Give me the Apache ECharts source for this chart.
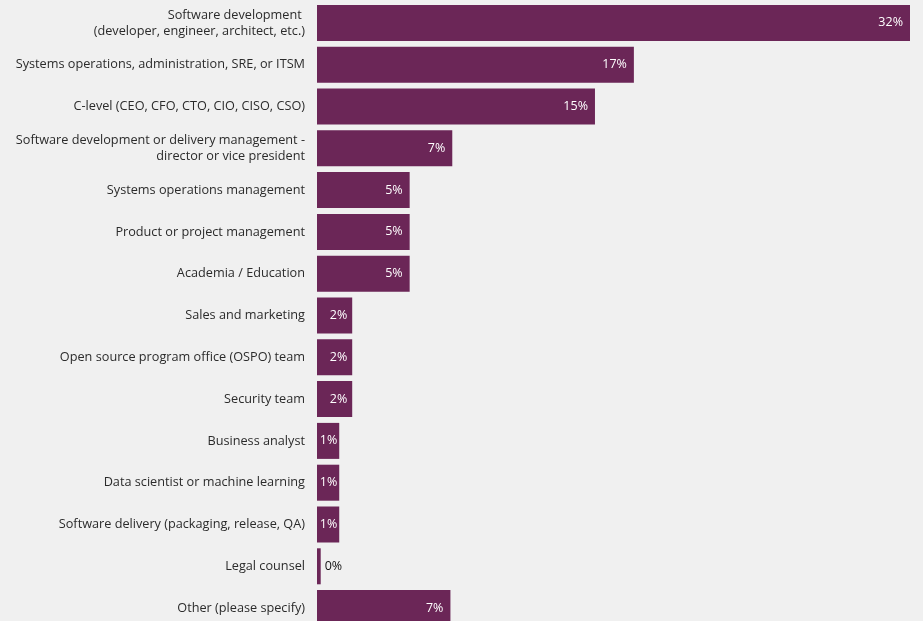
<!DOCTYPE html>
<html>
<head>
<meta charset="utf-8">
<style>
  html, body { margin: 0; padding: 0; background: #f0f0f0; overflow: hidden; }
  #chart { width: 923px; height: 631px; }
</style>
<script src="https://cdn.jsdelivr.net/npm/echarts@6/dist/echarts.min.js"></script>
</head>
<body>
<div id="chart"></div>
<script>
// Respondent roles, share of respondents (%)
const roles = [
  'Software development \n(developer, engineer, architect, etc.)',
  'Systems operations, administration, SRE, or ITSM',
  'C-level (CEO, CFO, CTO, CIO, CISO, CSO)',
  'Software development or delivery management -\ndirector or vice president',
  'Systems operations management',
  'Product or project management',
  'Academia / Education',
  'Sales and marketing',
  'Open source program office (OSPO) team',
  'Security team',
  'Business analyst',
  'Data scientist or machine learning',
  'Software delivery (packaging, release, QA)',
  'Legal counsel',
  'Other (please specify)'
];
const shares = [32, 17.1, 15, 7.3, 5, 5, 5, 1.9, 1.9, 1.9, 1.2, 1.2, 1.2, 0.2, 7.2];

const barColor = '#6b2657';

// Labels sit inside the bar end; narrow bars pull them closer to the edge,
// and a near-empty bar carries its label outside in dark text.
function barItem(v) {
  if (v < 1) {
    return { value: v, label: { position: 'right', color: '#111111', distance: 4 } };
  }
  if (v < 1.5) return { value: v, label: { distance: 2 } };
  if (v < 3) return { value: v, label: { distance: 5 } };
  return v;
}

const chart = echarts.init(document.getElementById('chart'));
chart.setOption({
  backgroundColor: '#f0f0f0',
  animation: false,
  grid: { left: 317, right: 13, top: 2, bottom: 2, containLabel: false },
  xAxis: {
    type: 'value', min: 0, max: 32,
    show: false
  },
  yAxis: {
    type: 'category',
    data: roles,
    inverse: true,
    axisLine: { show: false },
    axisTick: { show: false },
    axisLabel: {
      margin: 12,
      color: '#2b2b2b',
      fontFamily: 'Open Sans',
      fontSize: 12.7,
      lineHeight: 16,
      align: 'right'
    }
  },
  series: [{
    type: 'bar',
    barWidth: 36,
    itemStyle: { color: barColor },
    data: shares.map(barItem),
    label: {
      show: true,
      position: 'insideRight',
      distance: 7,
      color: '#ffffff',
      fontFamily: 'Open Sans',
      fontSize: 12.5,
      formatter: p => Math.round(p.value) + '%'
    }
  }]
});
</script>
</body>
</html>
